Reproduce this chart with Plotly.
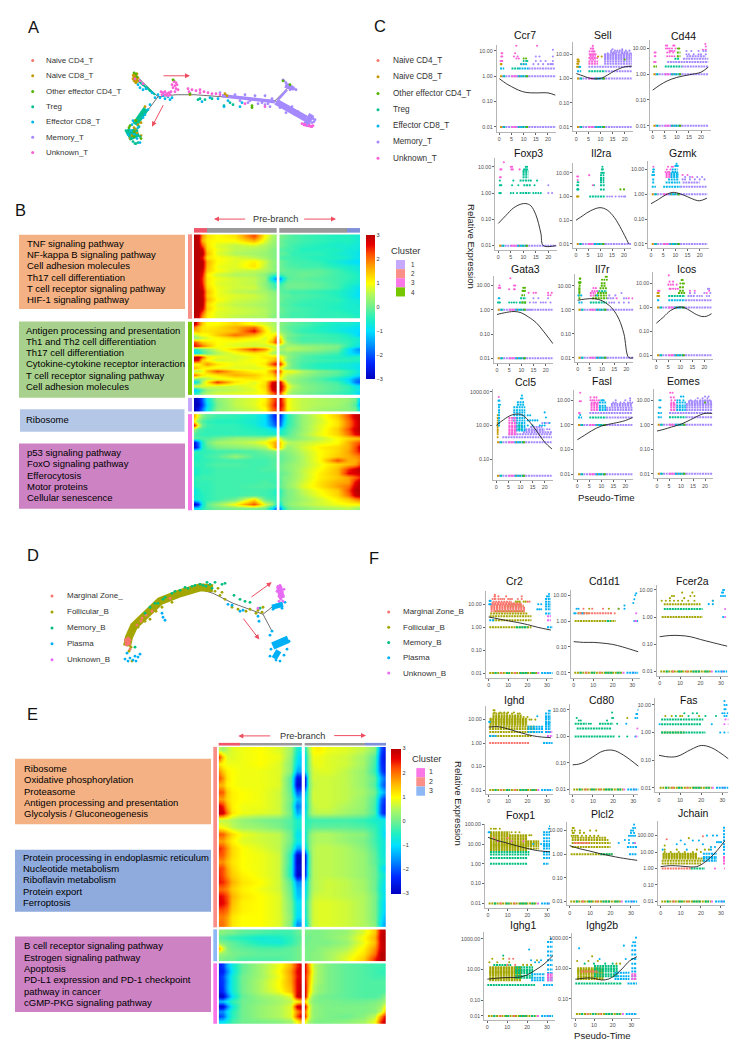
import math
import plotly.graph_objects as go

W, H = 736, 1048
COL = dict(R="#F8766D", B="#C49A00", G="#53B400", T="#00C094", C="#00B6EB", M="#A58AFF", U="#FB61D7",
           O="#A3A500", E="#00BF7D", P="#00B0F6", V="#E76BF3")
JET = [[0, "#0000C0"], [.117, "#0028FF"], [.233, "#0090FF"], [.333, "#00E0FF"], [.417, "#20F0C0"], [.5, "#70F090"],
       [.583, "#B0F860"], [.667, "#FFFF00"], [.767, "#FFB000"], [.867, "#FF5000"], [.933, "#E80000"], [1, "#B80000"]]

# ---------- legends / text ----------
T_CLUSTERS = ["Naive CD4_T", "Naive CD8_T", "Other effector CD4_T", "Treg", "Effector CD8_T", "Memory_T", "Unknown_T"]
T_KEYS = ["R", "B", "G", "T", "C", "M", "U"]
B_CLUSTERS_D = ["Marginal Zone_", "Follicular_B", "Memory_B", "Plasma", "Unknown_B"]
B_CLUSTERS_F = ["Marginal Zone_B", "Follicular_B", "Memory_B", "Plasma", "Unknown_B"]
B_KEYS = ["R", "O", "E", "P", "V"]
PATH_B1 = ["TNF signaling pathway", "NF-kappa B signaling pathway", "Cell adhesion molecules", "Th17 cell differentiation",
           "T cell receptor signaling pathway", "HIF-1 signaling pathway"]
PATH_B2 = ["Antigen processing and presentation", "Th1 and Th2 cell differentiation", "Th17 cell differentiation",
           "Cytokine-cytokine receptor interaction", "T cell receptor signaling pathway", "Cell adhesion molecules"]
PATH_B3 = ["Ribosome"]
PATH_B4 = ["p53 signaling pathway", "FoxO signaling pathway", "Efferocytosis", "Motor proteins", "Cellular senescence"]
PATH_E1 = ["Ribosome", "Oxidative phosphorylation", "Proteasome", "Antigen processing and presentation", "Glycolysis / Gluconeogenesis"]
PATH_E2 = ["Protein processing in endoplasmic reticulum", "Nucleotide metabolism", "Riboflavin metabolism", "Protein export", "Ferroptosis"]
PATH_E3 = ["B cell receptor signaling pathway", "Estrogen signaling pathway", "Apoptosis", "PD-L1 expression and PD-1 checkpoint",
           "pathway in cancer", "cGMP-PKG signaling pathway"]

# ---------- trajectory A (read in picture units) ----------
A_TREE = [[(135, 72), (158, 94)], [(158, 94), (137, 122)], [(158, 94), (176, 92), (195, 92), (240, 95), (275, 98)],
          [(275, 98), (289, 84)], [(275, 98), (305, 115)]]
A_BANDS = [("M", 3.5, [(222, 93), (240, 95), (260, 97), (275, 99)]), ("M", 6.5, [(276, 99), (290, 107), (300, 113), (306, 116)]),
           ("M", 13, [(306, 116), (311, 119)]), ("M", 2.5, [(278, 97), (287, 87)]), ("M", 4, [(285, 83), (294, 86)]),
           ("T", 11, [(131, 127), (135, 136)]), ("T", 6, [(135, 122), (146, 106)]), ("T", 2, [(138, 78), (155, 92)]),
           ("B", 5, [(134, 71), (137, 80)]), ("U", 3, [(303, 122), (313, 124)])]
A_POINTS = {
 "M": [(310, 118), (308, 115), (313, 116), (312, 120), (306, 118), (309, 121), (314, 119), (304, 114), (298, 109), (295, 112),
       (284, 78), (286, 80), (288, 82), (283, 77), (290, 85), (292, 84), (294, 86), (296, 87), (290, 87), (287, 84), (255, 93),
       (250, 98), (262, 100), (268, 101), (265, 93), (245, 92), (235, 92), (228, 94), (220, 90), (270, 104), (258, 101),
       (248, 100), (272, 96), (311, 114), (315, 117), (307, 122), (280, 105), (286, 110), (292, 104), (265, 102), (240, 98)],
 "B": [(134, 72), (135, 75), (136, 77), (137, 71), (133, 76), (136, 80), (138, 75), (134, 78), (136, 127), (138, 122), (134, 125),
       (141, 133), (132, 133), (145, 104), (190, 92), (225, 91), (227, 93), (141, 120), (135, 118), (130, 136), (137, 130)],
 "T": [(128, 128), (127, 130), (129, 133), (131, 136), (133, 139), (135, 141), (138, 140), (129, 127), (137, 128), (140, 134),
       (126, 128), (136, 141), (139, 124), (142, 110), (198, 97), (205, 97), (212, 96), (233, 102), (224, 103), (230, 100),
       (140, 78), (143, 82), (147, 85), (150, 88), (200, 96)],
 "C": [(155, 95), (160, 95), (165, 96), (168, 94), (172, 95), (163, 93), (158, 92), (170, 97), (143, 115), (138, 125), (134, 132),
       (131, 128), (137, 136), (140, 140), (132, 122), (148, 107), (145, 112), (150, 102), (202, 99), (210, 95), (218, 96),
       (224, 104), (228, 98), (240, 104), (242, 100), (140, 85), (146, 86), (143, 87), (138, 82), (152, 90), (133, 118), (128, 132)],
 "G": [(173, 77), (174, 78), (283, 78), (290, 82), (252, 105), (252, 103), (134, 70), (136, 71), (137, 74), (190, 91), (136, 118),
       (130, 123), (141, 136), (134, 129), (134, 134), (129, 125)],
 "U": [(174, 79), (175, 83), (176, 86), (177, 82), (173, 85), (178, 87), (175, 89), (172, 82), (176, 80), (161, 89), (163, 90),
       (165, 89), (167, 91), (169, 90), (171, 89), (162, 92), (165, 92), (168, 93), (170, 92), (188, 86), (192, 87), (196, 88),
       (200, 87), (204, 89), (208, 90), (212, 91), (216, 91), (220, 92), (189, 89), (200, 90), (305, 122), (309, 123), (313, 123),
       (311, 124), (302, 121), (265, 104), (245, 101), (140, 78), (143, 81), (135, 76)],
}
# ---------- trajectory D ----------
D_TREE = [[(130, 642), (133, 628), (147, 613), (160, 600), (180, 592), (200, 588), (213, 592), (233, 602), (263, 613)],
          [(263, 613), (272, 630)], [(263, 613), (273, 605)]]
D_BANDS = [("O", 8, [(127, 645), (129, 636), (134, 625), (147, 612), (160, 600), (180, 592), (200, 586), (213, 587)]),
           ("R", 6, [(127, 637), (128, 644)]), ("P", 17, [(279, 638), (282, 645)]), ("P", 9, [(274, 652), (279, 655)]), ("V", 6, [(279, 585), (282, 597)]),
           ("P", 5, [(272, 606), (283, 603)])]
D_POINTS = {
 "R": [(127, 640), (128, 637), (129, 643), (127, 644), (130, 639), (141, 620), (146, 614), (152, 610), (170, 597), (130, 648), (142, 617), (137, 624)],
 "O": [(129, 650), (131, 646), (131, 630), (138, 626), (145, 620), (150, 618), (156, 610), (162, 606), (172, 601), (215, 590),
       (220, 594), (225, 598), (232, 606), (238, 608), (246, 610), (250, 608), (256, 612), (258, 609), (262, 611), (132, 660), (263, 606), (218, 587), (222, 591)],
 "E": [(155, 602), (165, 596), (172, 592), (180, 589), (188, 587), (195, 584), (203, 584), (210, 583), (215, 581), (222, 583),
       (225, 582), (234, 594), (240, 598), (245, 600), (250, 601), (135, 646), (150, 606), (163, 598), (260, 607), (212, 587),
       (175, 590), (185, 586), (200, 583), (207, 581), (206, 585), (192, 585), (158, 602), (145, 612)],
 "P": [(125, 658), (127, 652), (130, 657), (133, 659), (135, 655), (138, 656), (140, 653), (128, 660), (136, 660), (162, 612), (163, 616),
       (165, 619), (228, 603), (232, 604), (240, 610), (243, 609), (258, 615), (259, 620), (270, 634), (272, 630), (289, 640), (287, 648),
       (271, 648), (270, 655), (276, 659), (280, 660), (284, 654), (273, 608), (276, 604), (280, 602), (282, 607), (285, 601)],
 "V": [(278, 585), (280, 584), (282, 590), (284, 588), (279, 595), (283, 594), (281, 598), (279, 600), (258, 607), (283, 600), (277, 590)],
}

# ---------- heat maps: ten columns per side ----------
HEAT_COLS = [0, 5, 10, 16, 28, 50, 72, 86, 94, 100]
B_H1 = [
 [3,3,1.8,1.2,1,1.2,2.2,1,.5,.3, .1,0,-.1,-.2,-.3,-.4,-.5,-.5,-.6,-.7],
 [3,3,1.6,1.1,1,1,1.6,.8,.4,.3, 0,-.1,-.2,-.2,-.3,-.4,-.5,-.5,-.6,-.7],
 [3,3,2.2,1.2,.8,.6,.7,.5,.3,.2, 0,-.1,-.2,-.3,-.4,-.5,-.6,-.6,-.7,-.7],
 [3,3,2.8,1.3,.9,.6,.5,.4,.2,.1, -.2,-.2,-.3,-.3,-.5,-.5,-.5,-.7,-.7,-.8],
 [3,3,3,1.5,.8,.5,.4,.3,.2,.1, -.1,-.1,-.2,-.4,-.4,-.4,-.6,-.7,-.8,-.9],
 [3,3,2.6,1.2,1,.8,.6,.4,.2,.1, -.2,-.3,-.3,-.3,-.4,-.5,-.5,-.6,-.8,-.8],
 [3,3,3,1.6,1,.8,1.1,.7,.3,.2, 0,-.1,-.2,-.3,-.3,-.4,-.7,-.9,-1,-1],
 [3,3,3,1.5,.9,.8,1.2,.6,.3,.1, 0,-.1,-.2,-.2,-.3,-.3,-.5,-.6,-.7,-.8],
 [3,3,2.8,1.4,1,.7,.6,.5,.3,.2, 0,0,-.1,-.1,-.1,-.1,-.3,-.5,-.6,-.7],
 [3,3,2.6,1.1,.7,.5,.5,.2,-.2,-.4, -.3,-.2,-.1,-.1,0,-.1,-.3,-.4,-.5,-.6],
 [3,3,2.4,1.2,.9,.7,.6,.3,-1,-1.9, -1.7,-.8,-.2,-.1,-.1,-.2,-.3,-.4,-.5,-.6],
 [3,3,2.5,1.2,.8,.7,.6,.2,-.2,-.5, -.4,-.2,0,0,0,-.1,-.3,-.5,-.6,-.7],
 [3,3,2.7,1.3,.9,.7,.7,.3,-.1,-.4, -.2,-.1,0,0,0,-.1,-.3,-.6,-.8,-.9],
 [3,3,3,1.5,.9,.6,.5,.4,.2,.1, -.1,-.2,-.2,-.3,-.3,-.4,-.5,-.7,-.8,-1],
 [3,3,2.9,1.4,.9,.8,.7,.5,.3,.2, 0,-.1,-.1,-.2,-.2,-.3,-.5,-.7,-.9,-1],
 [3,3,3,1.6,1,.7,.6,.5,.3,.2, 0,-.1,-.2,-.2,-.3,-.4,-.4,-.6,-.7,-.7],
 [3,3,3,1.3,.8,.6,.5,.4,.3,.2, -.1,-.2,-.2,-.3,-.4,-.4,-.5,-.6,-.6,-.7],
 [3,3,2.8,1.4,.9,.7,.6,.5,.3,.2, 0,-.1,-.2,-.2,-.3,-.4,-.5,-.6,-.6,-.6],
 [3,3,2.2,1.2,.8,.7,.6,.5,.3,.2, -.1,-.1,-.2,-.3,-.3,-.4,-.4,-.5,-.6,-.6],
 [3,2.8,1.8,1.1,.8,.6,.5,.5,.2,.1, -.1,-.2,-.2,-.3,-.3,-.4,-.4,-.4,-.5,-.5],
]
B_H2 = [
 [3,2.2,1.4,1,1,1.3,.9,.7,.5,.4, .2,.1,0,-.1,-.2,-.4,-.6,-.6,-.7,-.8],
 [2,1.5,1.2,1.1,1.2,1.6,2,1,.6,.4, .2,0,-.1,-.2,-.3,-.5,-.7,-.8,-.9,-1],
 [1.5,1.5,1.2,1.2,1.3,1.5,2.6,1.2,.7,.5, .3,.1,0,-.2,-.4,-.5,-.7,-.9,-1,-1],
 [.6,.8,1,1,1.4,2,1.6,1,1,1.4, .8,.4,.1,0,-.2,-.3,-.4,-.6,-.9,-1.2],
 [.2,.4,.6,.8,1,1.3,1.1,.8,1.2,2.2, 1.4,.5,0,-.1,-.3,-.3,-.4,-.5,-.6,-.7],
 [2.2,1.8,1.4,1.2,1,.9,.8,.9,1.6,2.6, 1.8,.8,.2,0,-.2,-.2,-.3,-.4,-.6,-.7],
 [2.6,2.4,2,1.6,1,.8,.7,.7,.6,.7, .4,.3,.4,.4,.3,.2,.1,-.4,-.7,-.9],
 [-.5,-.3,0,.3,.8,1.4,2.4,1.8,.9,.6, .5,.4,.6,.5,.4,.2,0,-.9,-1.4,-1.6],
 [-1,-.8,-.3,0,.5,.9,1.2,1,.5,.3, .2,.2,.2,.1,0,-.1,-.3,-.9,-1.2,-1.3],
 [3,3,2.2,1.2,.9,.7,.9,1.2,1.2,1.4, 1.2,.8,.3,.1,-.2,-.4,-.5,-.6,-.5,-.5],
 [2.8,2.6,1.4,1,.7,.8,1,1,1.4,1.8, 1.4,.7,.2,0,-.2,-.3,-.4,-.4,-.5,-.5],
 [1,1,1.3,1.8,1.2,.9,.9,1.2,2.2,2.8, 2.6,1.4,.4,0,-.3,-.5,-.6,-.7,-.8,-.8],
 [1.6,1.3,1.1,1,.9,.8,.8,.9,1.1,1.4, 1,.5,.2,0,-.3,-.5,-.6,-.7,-.8,-1],
 [.5,.6,.8,1.5,2.2,1.4,1,1,1.8,2.6, 2.2,1,.9,.9,.5,.1,-.1,-.4,-.6,-.8],
 [2,1.6,1.2,1,1.2,1.6,1.4,1.1,1.3,2, 1.5,.8,.6,.5,.3,0,-.2,-.5,-.8,-1],
 [.2,.1,.3,.6,.8,1,1.2,1,1,1.3, 1,.6,.4,.3,.1,-.2,-.6,-1,-1.6,-1.8],
 [-1,-.5,.5,1.2,2.4,1.2,.8,1.2,2.6,3, 3,1.6,.6,.3,.1,-.1,-.3,-.9,-1.8,-2],
 [.8,.8,.8,.8,.7,.7,.9,1.3,2.8,3, 3,2.2,1,.6,.2,0,-.2,-.4,-.8,-1],
 [-1.2,-.8,-.2,.3,.5,.6,.8,1.2,2.6,3, 3,2,.8,.4,.2,0,-.2,-.4,-.7,-.8],
 [-.6,-.4,.2,.5,.7,.8,.9,1.1,2,2.6, 2.4,1.2,.6,.3,.1,-.1,-.3,-.5,-.8,-1.2],
]
B_H3 = [
 [-3,-2.8,-2,-.8,.2,.6,.8,1.1,2,2.6, 2.8,2,1,.8,.6,.5,.4,.3,0,-1.2],
 [-3,-3,-2.2,-1,.1,.6,.8,1.2,2.2,2.8, 2.8,2.2,1,.8,.6,.5,.4,.2,-.2,-1.6],
 [-3,-2.6,-1.8,-.8,.2,.5,.7,1,2,2.4, 2.6,2,1,.8,.6,.4,.3,.2,0,-1],
]
B_H4 = [
 [1.6,.8,.2,-.1,-.3,-.4,-.6,-1,-2,-2.6, -2.4,-1.4,-.5,-.2,.3,.8,1.4,2.2,2.8,3],
 [1,.2,-.2,-.4,-.5,-.5,-.7,-1,-1.8,-2.4, -2.2,-1.2,-.5,-.2,.3,.7,1.2,2,2.6,3],
 [2.6,1,0,-.3,-.4,-.4,-.6,-1,-1.6,-2.2, -2,-1,-.4,-.2,.3,.8,1.2,2,2.6,3],
 [.3,-.2,-.3,-.4,-.4,-.4,-.5,-.6,-.8,-1, -.8,-.5,-.3,-.1,.3,.8,1.4,2.2,2.8,3],
 [-.2,-.3,-.4,-.4,-.4,-.4,-.4,-.5,-.5,-.6, -.5,-.4,-.2,0,.4,.9,1.3,2,2.6,2.8],
 [-.1,-.2,-.2,-.2,0,.3,.3,.4,.8,1.1, .8,.3,.1,.1,.3,.6,1,1.3,1.4,1.5],
 [-2.6,-1.8,-.6,0,.4,.5,.7,1,1.4,1.8, 1.4,.9,.6,.5,.6,.8,1,1.6,2,2.2],
 [-2.8,-2,-.6,-.2,.1,.2,.3,.5,1.2,2, 1.4,.7,.3,.4,.7,1.1,1.3,1.6,2.2,2.8],
 [-.4,-.4,-.4,-.4,-.3,-.3,-.2,0,.1,.1, .1,.1,.2,.3,.6,1,1.3,1.7,2.2,2.6],
 [-.5,-.5,-.4,-.3,-.2,.3,-.2,-.2,-.1,-.1, -.1,0,.1,.2,.5,1,1.4,1.6,1.8,2],
 [-.5,-.5,-.4,-.4,-.3,-.3,-.3,-.3,-.2,-.2, -.1,0,.1,.2,.5,1,2.2,1.6,1.6,1.9],
 [-.4,-.4,-.4,-.3,-.2,-.2,-.3,-.3,-.2,-.1, 0,.1,.2,.3,.5,.9,1.3,1.5,1.7,2.2],
 [-.6,-.5,-.4,-.4,-.3,-.3,-.3,-.2,-.2,-.2, 0,.1,.2,.3,.6,1,1.5,2.4,2.8,3],
 [-.6,-.5,-.4,-.4,-.3,-.3,-.3,-.3,-.3,-.3, -.1,0,.1,.3,.6,1.1,1.5,2.6,2.7,2.8],
 [-.4,-.4,-.3,-.3,-.3,-.3,-.3,-.3,-.3,-.3, -.1,.1,.2,.3,.6,1.1,1.4,1.7,2.1,2.4],
 [-.5,-.4,-.4,-.4,-.3,-.3,-.3,-.2,-.3,-.4, -.2,.1,.2,.4,.7,1.2,1.6,1.7,2.6,3],
 [-.5,-.4,-.4,-.4,-.3,-.3,-.2,-.2,-.2,-.3, -.1,.1,.3,.4,.8,1.2,1.7,2,2.8,3],
 [-.8,-.6,-.4,-.4,-.3,-.3,-.3,-.3,-.4,-.6, -.5,-.1,.1,.2,.6,1,1.4,2.2,3,3],
 [-.7,-.6,-.5,-.4,-.3,-.3,-.2,-.3,-.4,-.5, -.4,-.1,.1,.2,.5,.9,1.3,2,2.8,3],
 [-.7,-.6,-.5,-.4,-.3,0,1.2,-.1,-.3,-.4, -.3,0,.1,.2,.4,.7,1.1,1.4,1.8,2],
 [-3,-2.4,-.8,-.1,.3,1,2.2,.8,.3,-.6, -.8,0,.2,.3,.5,.7,.9,1,1,1.1],
 [-1,-1,-.5,-.2,0,.1,.1,0,-1,-2, -1.8,-.6,-.1,.1,.2,.4,.5,.6,.4,.3],
]
E_H1 = [
 [.6,.4,.6,.8,.9,1,.8,.4,-.6,-.9, -.6,.5,1,1.1,.9,.8,.6,.2,-2,-2.6],
 [2.4,1.4,.8,.8,.9,1,.9,.3,-.8,-1.3, -.9,.3,.9,.9,.8,.7,.4,-.2,-2.2,-2.8],
 [1.2,1,.9,.9,.9,1,.8,.2,-1,-1.2, -.9,.3,.8,.9,.8,.7,.4,-.3,-2.2,-2.6],
 [1.8,1.4,1.1,1,.9,.9,.8,.2,-1.4,-1.4, -1,.2,.7,.8,.8,.6,.3,-.4,-2,-2.6],
 [2.2,1.8,1.2,1,.9,.9,.8,-.2,-2.6,-2.6, -2.6,.1,.7,.7,.7,.6,.3,-.1,-1.4,-2],
 [1.6,1.5,1.1,1,.9,.9,.8,-.2,-2.8,-2.8, -2.6,.1,.6,.7,.7,.6,.3,-.2,-1.6,-2.2],
 [2.2,2.1,1.4,1.1,1,.9,.7,-.1,-2,-1.8, -1.4,.1,.7,.7,.7,.6,.4,0,-1,-1.6],
 [1.7,1.7,1.3,1.1,1,.9,.7,0,-1.2,-1.3, -1,.1,.7,.7,.7,.6,.3,-.2,-1.8,-2.4],
 [2.7,2.4,1.6,1.1,.9,.9,.7,-.1,-1.8,-1.5, -1.2,.1,.6,.7,.7,.5,.3,-.3,-2,-2.6],
 [2.9,2.8,2,1.2,.9,.8,.7,0,-1.4,-1.2, -.9,.1,.5,.6,.6,.4,.2,-.3,-2,-2.6],
 [.6,.6,.6,.5,.3,.1,0,-.2,-.6,-.6, -.6,-.4,-.3,-.3,-.3,-.3,-.4,-.6,-.7,-.8],
 [1,.9,.8,.6,.4,.3,.1,-.2,-.6,-.6, -.5,-.3,-.1,-.1,-.1,-.1,-.2,-.4,-.7,-.9],
 [2.2,2.1,1.7,1.3,.9,.7,.6,0,-.9,-.9, -.7,.1,.4,.5,.5,.3,.2,-.3,-.7,-1.2],
 [1.7,1.7,1.4,1.1,.8,.7,.6,0,-.8,-.8, -.6,.1,.4,.5,.5,.3,.1,-.3,-.6,-.8],
 [2.4,2.2,1.8,1.3,1,.8,.6,-.2,-1.4,-1.4, -1,.1,.5,.6,.6,.5,.2,-.2,-.6,-.8],
 [2.2,2.1,1.7,1.3,1,.9,.7,-.5,-2.8,-2.8, -2.6,-.2,.5,.6,.6,.5,.3,-.1,-.6,-.8],
 [1.8,1.8,1.5,1.2,1,.9,.7,-.5,-2.9,-2.9, -2.6,-.2,.5,.6,.6,.5,.3,-.1,-.5,-.7],
 [2.3,2.2,1.7,1.3,1,.9,.7,-.6,-2.8,-2.8, -2.4,-.2,.5,.6,.6,.5,.3,0,-.7,-1.2],
 [2.4,2.2,1.8,1.4,1.1,.9,.7,-.6,-2.9,-2.9, -2.4,-.2,.5,.6,.6,.5,.3,0,-.5,-.8],
 [2.5,2.4,2.1,1.6,1.2,1,.7,-.2,-1.6,-1.6, -1.2,0,.5,.6,.7,.6,.4,0,-.6,-1],
 [2,2,1.8,1.4,1.1,.9,.7,-.1,-1.3,-1.3, -1,0,.5,.6,.7,.6,.4,0,-.7,-1],
 [2.6,2.5,2.2,1.6,1.2,1,.8,0,-1.2,-1.2, -.9,.1,.6,.7,.7,.6,.5,.1,-.6,-1],
 [2.7,2.6,2.3,1.5,1.1,1,.8,.1,-.9,-.9, -.6,.2,.7,.8,.8,.7,.5,.1,-.7,-1.2],
 [2.2,2.2,2,1.4,1.1,1,.8,.1,-.9,-1, -.7,.2,.7,.8,.8,.7,.5,.1,-.7,-1.2],
 [1.9,1.9,1.7,1.2,1,1,.8,.2,-1,-1, -.7,.2,.7,.8,.8,.7,.5,.1,-.8,-1.4],
 [2,2,1.7,1.2,1,1,.8,.1,-1.6,-1.5, -1,.1,.7,.8,.8,.7,.5,.2,-1,-1.6],
]
E_H2 = [
 [.2,.2,.1,.1,-.1,-.2,-.3,-.3,-.1,0, .1,.1,.1,.1,.2,.3,.8,1.4,2.8,3],
 [-.1,-.2,-.3,-.4,-.5,-.7,-.6,-.4,-.2,-.1, 0,0,.1,.1,.2,.4,1,1.6,2.9,3],
 [.2,.1,0,-.1,-.3,-.6,-.7,-.4,-.2,0, 0,.1,.1,.1,.1,.3,.9,1.5,2.8,3],
 [1.6,.8,.2,0,-.1,-.2,-.2,-.1,0,.1, .1,.1,.1,.2,.3,.5,1.1,1.8,2.8,3],
 [.4,.3,.2,.1,0,-.1,-.1,-.1,0,.1, .1,.1,.2,.2,.4,.7,1.2,2,3,3],
 [.1,.1,0,0,-.2,-.2,-.2,-.1,0,.1, .1,.1,.2,.2,.4,.8,1.4,2.4,3,3],
]
E_H3 = [
 [-2.4,-2.2,-1.4,-.8,-.1,.4,.9,1.6,2.4,2.8, 2.6,1.6,.7,.4,.1,-.1,-.2,-.3,-.3,-.4],
 [-2.5,-2.4,-1.7,-.9,-.1,.4,1,1.8,2.6,2.8, 2.6,1.8,.8,.4,.1,-.1,-.2,-.3,-.4,-.4],
 [-2.3,-2.1,-1.4,-.7,0,.4,.9,1.7,2.5,2.7, 2.5,1.6,.7,.4,.1,-.1,-.2,-.3,-.3,-.3],
 [-2.3,-2.2,-1.5,-.7,0,.5,1,1.7,2.6,2.8, 2.6,1.5,.7,.4,.1,-.1,-.2,-.2,-.2,-.2],
 [-2.4,-2.2,-1.4,-.7,0,.5,1,1.6,2.6,3, 2.7,1.4,.6,.3,.1,-.1,-.2,-.2,-.2,-.2],
 [-2.5,-2.3,-1.5,-.7,0,.5,.9,1.5,2.6,3, 2.7,1.3,.6,.3,.1,-.1,-.2,-.2,-.2,-.2],
 [-2.9,-2.9,-2,-1,-.1,.3,.5,.8,2.8,3, 2.8,.9,.3,.1,0,-.1,-.2,-.2,-.1,.2],
 [-1.2,-1.2,-.8,-.4,0,.2,.4,.6,1,1.4, 1.2,.5,.2,.1,.1,0,0,.1,.2,.4],
 [-2.9,-2.8,-1.8,-.8,0,.3,.5,.8,2.8,3, 2.8,.9,.3,.2,.1,.1,.1,.2,.4,1],
 [-1.6,-1.6,-1,-.5,0,.3,.5,.8,1.8,2.4, 2,.8,.3,.2,.1,.1,.1,.2,.6,1.6],
 [-2.2,-2,-1.2,-.5,0,.3,.5,.8,2.2,2.9, 2.4,.8,.3,.2,.1,0,.2,.6,1.8,2.8],
 [-1,-1,-.7,-.3,0,.1,.2,.4,1,1.6, 1,.4,.2,.1,.1,.2,.4,.9,2.4,3],
]

# ---------- relative expression panels: (cluster, level(s), from, to) runs and (cluster, level, [x]) dots ----------
T_MIX = [("M", 2.5, 12), ("B", .3, 1.3), ("R", 1, 1.4), ("C", 1.3, 2.2), ("T", 1.8, 2.4), ("U", 5, 7.5), ("C", 7.5, 9.5), ("B", 8, 8.6),
         ("T", 9.5, 11.5), ("G", 11, 11.8), ("M", 12, 23.2)]
B_MIX = [("O", .3, 25), ("E", 3, 4.5), ("R", 6, 7), ("E", 9, 11), ("R", 13, 14), ("E", 16, 20), ("E", 22, 24), ("V", 25, 26), ("P", 27, 33), ("V", 30, 31)]

CCR7_RUNS = [("C", 2, .3, 2), ("T", 2, 5, 8), ("C", 2, 8, 12), ("M", 2, 12, 23)]
CCR7_DOTS = [("U", 4, [.5, 1, 1.2]), ("U", 6, [.8, 1.2, 6, 7.5]), ("U", 8, [.9, 1.2, 6.5]), ("U", 16, [7, 15.5]), ("G", 5, [10, 11]), ("T", 4, [10, 11, 11.5]),
             ("B", 3, [.6, .9, 9, 10]), ("M", 3, [14, 16, 18, 20, 21, 21.5, 22]), ("M", 4, [15, 17, 19, 22]), ("M", 6, [15, 16.5, 22]), ("M", 11, [22]), ("U", 5, [7, 8]), ("C", 3, [9, 10, 11])]
CCR7_X, CCR7_Y = [0, 3, 5, 8, 11, 15, 20, 23], [.8, .5, .39, .28, .23, .22, .22, .18]

SELL_RUNS = [("C", 2, .3, 2), ("T", 2, 5, 12), ("M", 2, 12, 23), ("M", 3, 5, 23), ("M", [4, 5, 6, 7, 8, 9, 10], 11.5, 23), ("M", 12, 14, 22), ("U", [4, 5, 7], 5, 9), ("U", [6, 8, 9], 5.5, 8)]
SELL_DOTS = [("U", 10, [5.5, 6, 6.5, 7, 7.5, 8]), ("U", 13, [5.5, 6.5, 7, 7.5]), ("U", 17, [6, 6.7, 7]), ("U", 22, [6.8]), ("B", 3, [.3, .8, 1]), ("B", 4, [.4, .8]), ("B", 5, [.5, .8, 1.1]), ("B", 6, [.5, .9]),
             ("M", 14, [14.5, 16, 17, 18, 19, 20.5, 22]), ("M", 11, [13, 15, 16, 19, 20, 21, 22.5]), ("M", 16, [15, 19]), ("G", 6, [20]), ("B", 8, [9, 10.5]), ("C", 3, [1.3, 1.6])]
SELL_X, SELL_Y = [0, 3, 6, 10, 13, 16, 20, 23], [1.6, 1.25, 1, 1, 1.4, 2.1, 3, 3.2]

CD44_RUNS = [("G", 2, .3, 1.8), ("T", 2, 5, 12), ("M", 2, 12, 23), ("M", 3, 6, 23), ("M", 4, 12.5, 23), ("M", 5, 14, 22), ("T", 4, 9, 11), ("G", 5, 10, 11.5), ("G", 7, 10, 11.5)]
CD44_DOTS = [("U", 3, [.6, 1, 1.2]), ("U", 5, [.9, 1.1, 6, 7, 8, 9]), ("U", 7, [.8, 1.2, 6, 7, 8.5]), ("U", 10, [5.5, 6.3, 7, 8, 9.5]), ("U", 13, [5.5, 6, 8.5, 9]), ("G", 10, [10.5, 11]), ("U", 8, [7, 7.5, 8, 9]),
             ("M", 6, [14, 15, 17, 19, 20, 22]), ("M", 8, [14, 16, 19, 21, 22]), ("U", 15, [21.8]), ("U", 12, [22]), ("U", 9, [20.8, 22])]
CD44_X, CD44_Y = [0, 3, 6, 10, 15, 20, 23], [.24, .38, .55, .75, .95, 1.2, 1.9]

FOXP3_RUNS = [("T", 1, 8.5, 13), ("T", 2, 10, 13), ("T", 3, 8.5, 12.5), ("T", [4, 5, 6, 7], 9.7, 12)]
FOXP3_DOTS = [("T", 1, [.4, .7, 1, 5, 6, 7.5, 14, 15, 16, 17]), ("M", 1, [20, 21.5]), ("T", 2, [.6, .9, 1.2, 5.5, 8, 14.5]), ("M", 2, [20]), ("T", 3, [.6, 6, 13, 15.5]), ("U", 4, [.6, 1]),
              ("U", 8, [.8, 1.2, 5.2, 5.8, 8.5]), ("U", 10, [5, 5.5]), ("U", 15, [2.2]), ("T", 8, [10.3, 11, 11.5]), ("T", 10, [11, 11.5])]
FOXP3_X, FOXP3_Y = [0, 3, 6, 9, 11, 13, 15, 17, 18, 23], [.07, .14, .27, .38, .4, .33, .15, .03, .01, .01]

IL2RA_RUNS = [("T", 1, 5.5, 12), ("T", 2, 10, 12), ("T", 3, 10, 12), ("T", [4, 5, 6, 8], 10, 11.8)]
IL2RA_DOTS = [("B", 1, [.4, .7, 1]), ("T", 2, [.5, .8, 1]), ("T", 3, [.5, .9, 7.5]), ("U", 3, [7]), ("U", 5, [.7]), ("U", 7, [.5, .9]), ("U", 8, [5.5]), ("T", 14, [10.8, 11.2]), ("T", 18, [11]), ("T", 10, [10.5, 11, 11.6]),
              ("M", 1, [13, 14, 15, 16.5, 18, 19, 20, 20.5]), ("G", 2, [18.5, 20]), ("T", 4, [1, .7])]
IL2RA_X, IL2RA_Y = [0, 3, 6, 10, 13, 16, 19, 22], [.1, .16, .25, .34, .27, .13, .04, .01]

GZMK_RUNS = [("C", 2, .3, 2), ("C", 2, 5, 12), ("M", 2, 12, 23), ("C", [3, 4], .5, 1.5), ("C", 3, 6, 12), ("M", 3, 13, 20), ("C", 4, 7, 11.5), ("U", [5, 6, 7], 6, 8), ("C", [5, 6, 7], 8, 11.5), ("C", [8, 10], 8.5, 11)]
GZMK_DOTS = [("C", 6, [.5, 1, 1.3]), ("C", 8, [.8, 1.1]), ("C", 10, [.9, 1.2]), ("U", 13, [1, 7, 8.5, 9]), ("C", 14, [10, 10.5, 11]), ("U", 8, [6, 7, 7.5]), ("U", 10, [6.5, 8]), ("M", 4, [13, 14, 16, 18, 20, 22]),
             ("M", 5, [14, 16, 19, 21]), ("U", 6, [15, 13]), ("U", 5, [17]), ("C", 17, [10.5])]
GZMK_X, GZMK_Y = [0, 3, 6, 9, 12, 15, 18, 20, 23], [.42, .62, .95, 1.2, 1.05, .8, .6, .55, .7]

GATA3_RUNS = [("T", 2, 9, 12), ("G", 2, 10, 12), ("T", 3, 9.5, 12), ("G", 4, 10, 11.5)]
GATA3_DOTS = [("T", 2, [.4, .8, 1.2, 5, 6, 7, 8]), ("C", 3, [.7, 1]), ("U", 8, [1, 1.3, .7]), ("U", 10, [1]), ("U", 7, [5, 7, 7.3]), ("U", 10, [7, 7.5]), ("U", 20, [5.5]), ("G", 6, [10.5, 11, 11.5]), ("G", 8, [10.8, 11.5]),
              ("M", 2, [13.5, 15, 16, 18, 19, 20, 22]), ("M", 3, [15, 17, 21]), ("U", 5, [13, 15, 16]), ("U", 4, [22, 21]), ("U", 5, [21, 22.5]), ("M", 1, [13, 14])]
GATA3_X, GATA3_Y = [0, 3, 7, 10, 13, 16, 20, 23], [.64, .75, .85, .75, .5, .3, .1, .04]

IL7R_RUNS = [("C", 2, .3, 2), ("T", 2, 5, 12), ("G", [3, 4, 5, 6, 7, 8], .3, 1.4), ("G", [10, 13], .4, 1.2), ("G", 3, 6, 12), ("G", 4, 7, 12), ("G", 5, 8, 12), ("T", 6, 8.5, 12), ("G", 8, 9, 12), ("G", [10, 13], 9.5, 11.5), ("U", [4, 5], 5, 7.5), ("M", 3, 12, 15)]
IL7R_DOTS = [("G", 14, [.5, 1, 1.2]), ("G", 20, [.9, 1.1]), ("G", 18, [10, 11, 12]), ("G", 24, [11.5, 12]), ("U", 6, [6, 7, 8]), ("U", 8, [6.5, 7.5]), ("M", 2, [13, 14, 15, 17, 19, 21]), ("M", 4, [13, 15.5]), ("M", 5, [18]), ("U", 3, [16, 21, 22.5]), ("M", 3, [19, 20]), ("C", 4, [.3, 1.5, 8])]
IL7R_X, IL7R_Y = [0, 3, 7, 10, 13, 15, 17, 19, 21, 23], [2.5, 2.8, 2.9, 2.4, 1.5, .9, .4, .1, .01, .01]

ICOS_RUNS = [("C", 2, .3, 1.5), ("C", 2, 5, 12), ("M", 2, 12, 23), ("T", 3, 5, 12), ("M", 3, 13, 16), ("G", 4, 9, 12), ("G", [5, 7], 9.5, 11.5)]
ICOS_DOTS = [("B", 3, [.4, .8, 1.2]), ("B", 4, [.5, 1]), ("U", 5, [.7, 1, 1.3]), ("U", 6, [5.5, 6, 7, 8, 9]), ("U", 9, [5, 6, 7, 8.5]), ("U", 12, [5.5, 7]), ("U", 22, [5.2]), ("G", 10, [10, 11, 11.5]), ("G", 14, [10.5, 11]),
             ("M", 3, [17, 18, 19, 21, 22]), ("M", 4, [14, 16, 20, 22.5]), ("U", 5, [14, 16, 22]), ("M", 6, [21.5, 22]), ("U", 4, [14, 21])]
ICOS_X, ICOS_Y = [0, 3, 6, 10, 13, 16, 19, 21, 23], [.22, .4, .75, 1.05, .85, .55, .42, .43, .55]

CCL5_RUNS = [("M", 2, 2.5, 23), ("M", 3, 5, 23), ("M", 4, 11, 23), ("M", [5, 6], 12, 20), ("M", 8, 14, 19), ("B", [2, 3, 4, 5, 6, 8, 10, 14, 20, 28, 40], .2, .9), ("C", [10, 14, 20, 28, 40, 60, 80, 120], .7, 1.8),
             ("U", [3, 4, 5, 6, 8, 10, 14, 20, 28], 5, 8.5), ("C", [5, 6, 8, 10, 14], 8, 12), ("C", [20, 28, 40, 60, 80, 120], 7, 12), ("C", [170, 240], 8.5, 11.5), ("T", [6, 10], 9, 10.5)]
CCL5_DOTS = [("C", 170, [1, 1.5]), ("C", 300, [.9, 1.3]), ("U", 500, [1]), ("C", 400, [10.2, 10.8]), ("C", 600, [10.6]), ("C", 20, [13, 14, 15, 16, 17]), ("C", 40, [13, 14]), ("C", 10, [13, 15, 18, 19, 20]),
             ("C", 30, [20.5]), ("C", 60, [20]), ("M", 6, [21, 22]), ("M", 14, [19, 20.5, 21.5]), ("C", 14, [20, 22])]
CCL5_X, CCL5_Y = [0, 3, 6, 9, 11, 14, 17, 20, 23], [10, 22, 40, 48, 40, 15, 4, 1, .4]

FASL_RUNS = [("C", 2, .3, 2), ("T", 2, 5, 12), ("M", 2, 12, 23), ("M", 3, 5, 23), ("M", [4, 5], 12, 23), ("M", [6, 7], 14, 23), ("U", [4, 5, 6, 7], 5.5, 9), ("C", [4, 5, 6, 8], 9, 12)]
FASL_DOTS = [("U", 8, [6, 7, 7.5, 8.5]), ("U", 10, [5.5, 6.3, 7, 8, 9]), ("U", 13, [5.5, 7, 8]), ("U", 20, [1.2]), ("U", 9, [1, 1.5]), ("U", 3, [.7, 1]), ("M", 8, [15, 16, 18, 19.5, 21, 22, 23]), ("M", 10, [16, 20, 22]), ("M", 12, [22]), ("C", 10, [10, 10.5, 11]), ("C", 2.5, [1.2])]
FASL_X, FASL_Y = [0, 3, 6, 10, 15, 20, 23], [.25, .38, .58, .9, 1.15, 1.5, 2]

EOMES_RUNS = [("C", 2, .3, 2), ("C", 3, .3, 2), ("T", 2, 5, 12), ("M", 2, 12, 23), ("M", 3, 5, 23), ("M", [4, 5, 6, 7], 12, 23), ("M", [8, 9], 13, 23), ("U", [4, 5, 6, 7], 5.5, 8), ("C", [4, 5, 6, 8], 8, 12)]
EOMES_DOTS = [("U", 8, [6, 7]), ("U", 20, [5.5, 6.5]), ("C", 10, [1, 1.5, 8.5, 9.5, 11]), ("C", 5, [.9, 1.4]), ("U", 10, [6, 7.5]), ("U", 13, [5.8, 7]), ("M", 10, [14, 16, 18, 19, 20, 21, 22]), ("M", 12, [17, 19, 21]), ("M", 14, [20, 21.5]), ("G", 8, [20]), ("C", 14, [10, 11])]
EOMES_X, EOMES_Y = [0, 3, 6, 10, 14, 18, 20, 23], [.55, .65, .8, 1.05, 1.6, 2.5, 2.9, 2.9]

CR2_RUNS = [("O", 1, .3, 22), ("E", 1, 14, 20), ("P", 1, 30, 33), ("P", 2, .3, 3), ("O", 2, 2, 22), ("O", 3, .5, 22), ("O", 4, .8, 20), ("R", [5, 6, 7], 1, 19), ("O", 5, 3, 18), ("R", [8, 9], 1, 18), ("O", 8, 8, 18), ("R", [10, 11], 1.5, 17), ("O", 10, 10, 17), ("R", 13, 2, 12),
            ("P", [4, 6, 8, 10, 13, 17], 29, 32), ("V", [2, 3], 30, 32)]
CR2_DOTS = [("R", 17, [2, 3, 3.5, 5, 6, 7, 8, 10, 11, 12, 15, 17]), ("R", 22, [3, 3.2, 5, 9, 17]), ("R", 26, [3.2]), ("O", 13, [14, 15, 16, 18, 19]), ("P", 10, [.3, .6, 1, 25.5, 27]), ("P", 14, [.5, 1]), ("P", 6, [25, 26, 27]), ("P", 22, [30, 31]), ("P", 28, [31]), ("R", 13, [20, 21])]
CR2_X, CR2_Y = [0, 5, 10, 15, 20, 25, 32], [2.8, 2.3, 1.9, 1.6, 1.3, 1, .75]

CD1D1_RUNS = [("O", 1, .5, 21.5), ("E", 1, 17, 19), ("R", 2, 2, 20), ("O", 2, 2, 8)]
CD1D1_DOTS = [("P", 2, [.3, 1, 4.5]), ("P", 3, [1.5, 2.5, 23, 26]), ("R", 3, [5, 9.5, 15]), ("R", 2, [21]), ("O", 3, [8, 18, 23]), ("P", 4, [26]), ("P", 1, [31, 32.5]), ("V", 1, [31.5, 32]), ("V", 2, [32]), ("P", 5, [30.5]), ("P", 7, [31]), ("P", 10, [31.5]), ("P", 12, [32])]
CD1D1_X, CD1D1_Y = [0, 5, 10, 15, 20, 25, 33], [.16, .15, .15, .14, .125, .1, .065]

FCER2A_RUNS = [("O", 1, 1, 21), ("E", 2, 2, 21), ("O", 3, 2, 20)]
FCER2A_DOTS = [("O", 4, [1, 3, 5, 7, 9, 11, 14, 17, 26]), ("O", 5, [5, 12]), ("O", 6, [7, 15, 17, 6]), ("O", 8, [11, 16]), ("P", 3, [24, 26]), ("P", 4, [26]), ("P", 1, [31]), ("P", 6, [30, 31, 32]), ("P", 8, [30.5, 31]), ("P", 10, [31, 31.5]), ("V", 1, [32]), ("V", 2, [32])]
FCER2A_X, FCER2A_Y = [0, 5, 10, 15, 20, 25, 33], [.19, .21, .21, .19, .15, .12, .085]

IGHD_RUNS = [("R", 1, .3, 21), ("P", [1], 28, 33), ("P", 2, .2, 4), ("O", 2, .3, 22), ("O", [3, 4, 5], .3, 24), ("O", [6, 7, 8, 9, 10, 11], .5, 20), ("O", [13, 15], 2, 17), ("O", 18, 2, 10), ("P", [3, 4, 5, 6, 7, 8, 10, 12, 14, 18], 29, 32), ("P", [3, 4, 5], 20, 28), ("V", [2, 3], 30, 33)]
IGHD_DOTS = [("O", 25, [2.5, 3]), ("O", 20, [3, 6, 8, 10, 13]), ("O", 18, [12, 15, 16]), ("O", 13, [18, 20]), ("O", 10, [21, 22, 24]), ("P", 24, [31, 31.5]), ("P", 8, [.3, .6]), ("P", 14, [25])]
IGHD_X, IGHD_Y = [0, 5, 10, 15, 20, 25, 32], [4.8, 5, 4, 3, 2.3, 1.9, 1.7]

CD80_RUNS = [("E", 1, 1, 21), ("E", 2, 2, 19), ("E", 3, 1, 7), ("E", 3, 13, 20)]
CD80_DOTS = [("E", 5, [2, 19.5, 20]), ("E", 4, [3, 4, 17]), ("E", 8, [19.5]), ("E", 3, [8, 9, 22]), ("E", 1, [23, 27]), ("O", 5, [27]), ("P", 3, [26.5]), ("P", 1, [31, 33]), ("V", 1, [31.5]), ("V", 2, [32, 33]), ("P", 5, [31, 32]), ("P", 7, [31.5, 32]), ("P", 10, [32.5]), ("P", 12, [33])]
CD80_X, CD80_Y = [0, 3, 6, 10, 15, 20, 25, 33], [.085, .09, .11, .17, .28, .3, .2, .07]

FAS_RUNS = [("E", 1, 1, 22), ("O", 1, 1, 12), ("E", 2, 1, 20), ("E", 3, 1, 21)]
FAS_DOTS = [("O", 4, [3, 6, 10, 11, 19]), ("E", 5, [12, 16, 18]), ("E", 4, [8, 14, 22, 27]), ("P", 2, [.3, 25]), ("P", 1, [29, 31, 33]), ("V", 2, [31, 33]), ("V", 3, [31.5, 33]), ("P", 4, [31, 32]), ("P", 5, [30, 31, 32.5]), ("P", 7, [31, 31.5]), ("P", 10, [31, 32]), ("P", 14, [31])]
FAS_X, FAS_Y = [0, 5, 9, 15, 20, 25, 33], [.15, .13, .14, .24, .34, .28, .11]

FOXP1_RUNS = [("E", [1, 2], 1, 20), ("E", [3, 4], 1, 21), ("P", 1, 28, 31), ("O", [5, 6, 7, 8, 9, 10, 12, 14, 17, 20, 24, 28], 1, 20), ("O", [33, 40], 1, 11), ("P", [2, 3, 4, 6, 8, 10, 14, 20, 30, 40], 28, 32), ("O", [6, 8, 10, 12, 14], 20, 26)]
FOXP1_DOTS = [("O", 60, [1.5, 3, 4, 6]), ("O", 40, [12, 14, 16]), ("O", 28, [21, 22]), ("P", 60, [31, 32]), ("P", 80, [31.5]), ("P", 40, [.3, .8]), ("U", 14, [5, 12, 18]), ("R", 20, [3, 10]), ("P", 10, [23, 27])]
FOXP1_X, FOXP1_Y = [0, 5, 10, 15, 20, 25, 33], [22, 15, 11, 8, 6, 4.7, 4]

PLCL2_RUNS = [("O", 1, .5, 21), ("E", 1, 15, 21), ("O", 2, 1, 20), ("O", 3, 1, 20), ("O", 4, 1, 19), ("O", 5, 1, 18), ("R", 3, 2, 10), ("P", 2, 28, 33), ("P", 1, 29, 33)]
PLCL2_DOTS = [("O", 6, [1, 2, 3, 4, 6, 8, 10, 12, 14]), ("O", 8, [1.5, 2, 5, 7]), ("O", 10, [1.2, 2.5, 5, 10, 13]), ("O", 13, [1.5, 2]), ("P", 3, [24, 29, 31, 32]), ("P", 4, [27, 29]), ("P", 6, [29, 30, 31, 32]), ("P", 8, [30, 31.5]), ("P", 10, [30, 31]), ("P", 13, [31, 32]), ("P", 18, [31.5]), ("U", 3, [32])]
PLCL2_X, PLCL2_Y = [0, 5, 10, 15, 20, 25, 33], [2.3, 1.7, 1.35, 1.05, .85, .7, .55]

JCHAIN_RUNS = [("R", 1, .5, 15), ("E", 1, 15, 22), ("O", 2, .5, 20), ("O", 3, .5, 22), ("O", 4, 1, 22), ("O", [5, 6, 7, 8], 1, 18), ("P", [5, 8, 14, 20, 30, 50, 80, 120, 200, 300], 31, 33), ("U", [2, 3, 4, 5], 31, 33), ("P", [3, 4, 5, 8], 21, 28)]
JCHAIN_DOTS = [("O", 10, [2, 5, 9, 12, 16, 20]), ("O", 14, [2, 8, 18, 22, 24]), ("R", 60, [3]), ("O", 25, [2]), ("P", 50, [10, 16, 19]), ("P", 30, [8, 12, 21]), ("P", 100, [23, 26, 28]), ("R", 90, [21]), ("O", 70, [14]), ("P", 14, [1, 13, 25]), ("P", 20, [25, 27]), ("P", 40, [28, 29, 30]), ("U", 1, [27, 32])]
JCHAIN_X, JCHAIN_Y = [0, 5, 10, 15, 18, 21, 25, 28, 31, 33], [1.3, 1.5, 1.4, 1.25, 1.3, 2, 5, 12, 35, 70]

IGHG1_RUNS = [("E", 1, 0, 24), ("P", 1, 28, 33), ("O", [2, 2.5, 3, 4, 5, 6, 7, 8, 10, 12, 14], 1, 17), ("E", [3, 4, 6, 8, 10, 14], 14, 23), ("P", [2, 3, 6, 10, 20, 40, 80, 150, 300, 600], 30, 33), ("P", [2, 3, 5], 22, 29), ("E", 20, 3, 12), ("U", [2, 3, 4, 5], 30, 33)]
IGHG1_DOTS = [("O", 50, [2.5, 8]), ("R", 50, [11, 13]), ("O", 30, [1, 5, 11]), ("E", 80, [8]), ("P", 200, [21]), ("O", 40, [25]), ("O", 20, [18, 20, 22]), ("P", 40, [22, 27]), ("P", 30, [24, 26]), ("P", 1000, [32]), ("R", 20, [10, 14])]
IGHG1_X, IGHG1_Y = [0, 4, 8, 12, 16, 20, 24, 28, 33], [2.4, 2.7, 3, 3.1, 3.2, 4.5, 9, 20, 80]

IGHG2B_RUNS = [("E", 1, 0, 22), ("E", 1, 22, 25), ("P", 1, 28, 33), ("O", [2, 2.5, 3, 4, 5, 6, 7, 8, 10], 1, 15), ("E", [3, 4, 6, 8, 10, 14], 10, 23), ("R", 6, 3, 12), ("P", [2, 3, 6, 10, 20, 40, 80, 150, 300], 30, 33), ("P", [2, 3, 5], 21, 29), ("U", [2, 3, 4], 30, 33)]
IGHG2B_DOTS = [("P", 200, [2]), ("O", 60, [9]), ("O", 30, [1, 7, 12]), ("E", 20, [5, 10, 16, 20]), ("P", 300, [26]), ("P", 40, [13, 27]), ("O", 20, [22, 24]), ("P", 500, [31, 32]), ("P", 1000, [32.5])]
IGHG2B_X, IGHG2B_Y = [0, 3, 6, 10, 14, 18, 21, 25, 29, 33], [1.9, 2.1, 2.3, 2.2, 1.7, 2, 3.3, 9, 30, 57]

fig = go.Figure()
layout = dict(width=W, height=H, margin=dict(l=0, r=0, t=0, b=0), paper_bgcolor="white", plot_bgcolor="rgba(0,0,0,0)",
              showlegend=False, font=dict(family="Liberation Sans", color="#1a1a1a"), shapes=[], annotations=[])
axn = [0]


def new_axes(l, r, t, b, xa=None, ya=None):
    axn[0] += 1
    n = axn[0]
    sfx = "" if n == 1 else str(n)
    hide = dict(visible=False, fixedrange=True)
    layout["xaxis" + sfx] = dict(hide, domain=[l / W, r / W], anchor="y" + sfx, **(xa or {}))
    layout["yaxis" + sfx] = dict(hide, domain=[1 - b / H, 1 - t / H], anchor="x" + sfx, **(ya or {}))
    return "x" + sfx, "y" + sfx


def txt(x, y, s, size, anchor="left", angle=0, color="#1a1a1a"):
    layout["annotations"].append(dict(x=x / W, y=1 - y / H, xref="paper", yref="paper", text=s, showarrow=False, xanchor=anchor,
                                      yanchor="middle", textangle=angle, font=dict(size=size, color=color), borderpad=0))


def rect(l, r, t, b, c):
    layout["shapes"].append(dict(type="rect", xref="paper", yref="paper", x0=l / W, x1=r / W, y0=1 - b / H, y1=1 - t / H,
                                 fillcolor=c, line=dict(width=0), layer="below"))


def arrow(x0, y0, x1, y1):
    layout["annotations"].append(dict(x=x1 / W, y=1 - y1 / H, xref="paper", yref="paper", text="", showarrow=True, ax=x0 - x1, ay=y0 - y1,
                                      axref="pixel", ayref="pixel", arrowcolor="#EE4F60", arrowwidth=1, arrowhead=2, arrowsize=1))


# panel letters
for ch, x, y in [("A", 33, 24), ("C", 380, 23), ("B", 20, 208), ("D", 33, 554), ("E", 32, 713), ("F", 374, 557)]:
    txt(x, y, ch, 16.5, "center", color="#111111")


def legend(labels, keys, mx, tx, ys, size):
    xa, ya = new_axes(mx - 5, mx + 5, ys[0] - 5, ys[-1] + 5, dict(range=[-5, 5]), dict(range=[ys[-1] + 5, ys[0] - 5]))
    fig.add_trace(go.Scatter(x=[0] * len(keys), y=ys, mode="markers", xaxis=xa, yaxis=ya, hoverinfo="skip",
                             marker=dict(size=3, color=[COL[k] for k in keys])))
    for lb, yy in zip(labels, ys):
        txt(tx, yy, lb, size, color="#333333")


legend(T_CLUSTERS, T_KEYS, 32.7, 45.3, [57.7, 73, 88.7, 104, 119.3, 134.7, 150], 7.9)
legend(T_CLUSTERS, T_KEYS, 378, 391.7, [57.7, 74, 90.7, 107, 123.3, 139.3, 155.7], 8.2)
legend(B_CLUSTERS_D, B_KEYS, 52, 65.7, [594.7, 610.7, 626.7, 642.7, 658.7], 8)
legend(B_CLUSTERS_F, B_KEYS, 388.7, 401.7, [610.7, 626, 641.3, 656.7, 672], 8)


def trajectory(tree, bands, points, l, r, t, b, size):
    xa, ya = new_axes(l, r, t, b, dict(range=[l, r]), dict(range=[b, t]))
    for seg in tree:
        fig.add_trace(go.Scatter(x=[p[0] for p in seg], y=[p[1] for p in seg], mode="lines", xaxis=xa, yaxis=ya, hoverinfo="skip",
                                 line=dict(color="#333333", width=.7)))
    for key, w, pts in bands:
        fig.add_trace(go.Scatter(x=[p[0] for p in pts], y=[p[1] for p in pts], mode="lines", xaxis=xa, yaxis=ya, hoverinfo="skip",
                                 line=dict(color=COL[key], width=w)))
    for key, pts in points.items():
        fig.add_trace(go.Scatter(x=[p[0] for p in pts], y=[p[1] for p in pts], mode="markers", xaxis=xa, yaxis=ya, hoverinfo="skip",
                                 marker=dict(size=size, color=COL[key])))


trajectory(A_TREE, A_BANDS, A_POINTS, 120, 330, 60, 150, 2.8)
trajectory(D_TREE, D_BANDS, D_POINTS, 120, 300, 570, 670, 2.8)
arrow(162, 73, 190, 73)
arrow(164, 101, 152, 124)
arrow(250, 596.7, 271.7, 581)
arrow(242.3, 616, 259.3, 638.3)


def heat_block(rows, lx0, lx1, rx0, rx1, t, b, cbar=None):
    n = len(rows)
    for side, (l, r) in enumerate([(lx0, lx1), (rx0, rx1)]):
        z = [row[:10] if side == 0 else row[10:] for row in rows]
        xa, ya = new_axes(l, r, t, b, dict(range=[0, 100]), dict(range=[n - .5, -.5]))
        kw = dict(showscale=False)
        if cbar and side == 0:
            kw = dict(showscale=True, colorbar=cbar)
        fig.add_trace(go.Heatmap(z=z, x=HEAT_COLS, y=list(range(n)), zmin=-3, zmax=3, colorscale=JET, zsmooth="best", xaxis=xa, yaxis=ya,
                                 hoverinfo="skip", **kw))


def cb(l, r, t, b):
    return dict(x=l / W, xanchor="left", y=1 - (t + b) / 2 / H, yanchor="middle", xpad=0, ypad=0, thickness=r - l, thicknessmode="pixels",
                len=b - t, lenmode="pixels", outlinewidth=0, ticks="", tickvals=[3, 2, 1, 0, -1, -2, -3],
                ticktext=["3", "2", "1", "0", "\u22121", "\u22122", "\u22123"], tickfont=dict(size=5.5, color="#333333"))


PATH_SIZE = 9.5
# B
heat_block(B_H1, 194, 276.7, 279.3, 360, 232, 316.7, cb(366, 375.3, 232.7, 377))
heat_block(B_H2, 194, 276.7, 279.3, 360, 319.7, 393)
heat_block(B_H3, 194, 276.7, 279.3, 360, 396, 409.7)
heat_block(B_H4, 194, 276.7, 279.3, 360, 412.3, 508.7)
rect(194, 207, 225.7, 230.3, "#F0566A"); rect(207, 276.7, 225.7, 230.3, "#999999"); rect(279.3, 347, 225.7, 230.3, "#999999"); rect(347, 360, 225.7, 230.3, "#7E90D8")
rect(188, 192, 232, 316.7, "#FA8F87"); rect(188, 192, 319.7, 393, "#76C600"); rect(188, 192, 396, 409.7, "#C4A9FF"); rect(188, 192, 412.3, 508.7, "#FA77E8")
for c, t, b in [("#C4A9FF", 257.7, 266.9), ("#FA8F87", 266.9, 276), ("#FA77E8", 276, 285.2), ("#76C600", 285.2, 294.3)]:
    rect(396, 405, t, b, c)
for s, yy in zip("1234", [262, 271.5, 280.5, 290]):
    txt(410, yy, s, 6.3, color="#333333")
txt(406, 249, "Cluster", 9.3, "center", color="#333333")
txt(275, 216.7, "Pre-branch", 9.2, "center", color="#333333")
arrow(246.7, 216.7, 214, 216.7)
arrow(302.7, 216.7, 336, 216.7)
rect(19, 185, 232.3, 307, "#F4B183"); rect(19, 185, 319.3, 396, "#A9D18E"); rect(20, 184.5, 407.3, 430, "#B4C7E7"); rect(19, 185, 441.7, 507.3, "#CC82C3")
for s, yy in zip(PATH_B1, [241, 252.3, 263.7, 275, 286.3, 297.7]):
    txt(26, yy, s, PATH_SIZE, color="#000000")
for s, yy in zip(PATH_B2, [328.3, 339.3, 350.7, 362, 373.3, 384.7]):
    txt(25.3, yy, s, PATH_SIZE, color="#000000")
for s, yy in zip(PATH_B3, [418]):
    txt(25, yy, s, PATH_SIZE, color="#000000")
for s, yy in zip(PATH_B4, [451, 462.3, 473.7, 485, 496.3]):
    txt(26, yy, s, PATH_SIZE, color="#000000")

# E
heat_block(E_H1, 218.7, 302, 304.7, 386, 746, 927, cb(391.3, 401.7, 748, 892.7))
heat_block(E_H2, 218.7, 302, 304.7, 386, 929, 961)
heat_block(E_H3, 218.7, 302, 304.7, 386, 963, 1023.7)
rect(218.7, 240, 742, 744.7, "#F0566A"); rect(240, 302, 742, 744.7, "#999999"); rect(304.7, 365, 742, 744.7, "#999999"); rect(365, 386, 742, 744.7, "#7E90D8")
rect(213.3, 217, 746, 927, "#FA8F87"); rect(213.3, 217, 929, 961, "#8DB8F5"); rect(213.3, 217, 963, 1023.7, "#FA77E8")
for c, t, b in [("#FA77E8", 767.3, 776.5), ("#FA8F87", 776.5, 785.7), ("#8DB8F5", 785.7, 795)]:
    rect(416.3, 425, t, b, c)
for s, yy in zip("123", [771, 780.5, 790]):
    txt(428, yy, s, 7, color="#333333")
txt(426.7, 757.7, "Cluster", 9.3, "center", color="#333333")
txt(302.7, 734.7, "Pre-branch", 9.2, "center", color="#333333")
arrow(271.7, 735, 238.3, 735)
arrow(332.7, 734.7, 366, 734.7)
rect(15, 211, 758, 823.7, "#F4B183"); rect(15, 211, 849.3, 911.3, "#8FAADC"); rect(15, 211, 936.3, 1012, "#CC82C3")
for s, yy in zip(PATH_E1, [767.7, 779, 790.3, 801.7, 813]):
    txt(23.3, yy, s, PATH_SIZE, color="#000000")
for s, yy in zip(PATH_E2, [856.7, 868, 879.3, 890.7, 902]):
    txt(22.3, yy, s, PATH_SIZE, color="#000000")
for s, yy in zip(PATH_E3, [945.7, 957, 968.3, 979.7, 991, 1002.3]):
    txt(23.3, yy, s, PATH_SIZE, color="#000000")


def panel(title, origin, frame, xcal, ycal, tpos, yticks, xticks, base, runs, dots, cx, cy):
    ox, oy = origin
    l, r, t, b = [ox + frame[0] / 3, ox + frame[1] / 3, oy + frame[2] / 3, oy + frame[3] / 3]
    x0 = ox + xcal[0] / 3
    k = (ox + xcal[1] / 3 - x0) / xcal[2]
    (v1, p1), (v2, p2) = ycal
    p1, p2 = oy + p1 / 3, oy + p2 / 3
    s = (math.log10(v1) - math.log10(v2)) / (p1 - p2)
    fy = lambda p: math.log10(v1) + (p - p1) * s
    tk = dict(visible=True, showgrid=False, zeroline=False, showline=True, linecolor="#b5b5b5", linewidth=1, ticks="outside", ticklen=2, tickwidth=.6,
              tickcolor="#666666", tickfont=dict(size=5.3, color="#4d4d4d"))
    ticktxt = ["%.2f" % v for v in yticks]
    xa, ya = new_axes(l, r, t, b, dict(tk, range=[(l - x0) / k, (r - x0) / k], tickmode="array", tickvals=xticks),
                      dict(tk, type="log", range=[fy(b), fy(t)], tickmode="array", tickvals=yticks, ticktext=ticktxt))
    segs = {}
    for lev, rr in base:
        for key, a, c in rr:
            segs.setdefault(key, []).append((lev, a, c))
    for key, levs, a, c in runs:
        for lev in (levs if isinstance(levs, list) else [levs]):
            segs.setdefault(key, []).append((lev, a, c))
    for key, items in segs.items():
        xs, ys = [], []
        for lev, a, c in items:
            xs += [a, c, None]
            ys += [lev, lev, None]
        fig.add_trace(go.Scatter(x=xs, y=ys, mode="lines", xaxis=xa, yaxis=ya, hoverinfo="skip",
                                 line=dict(color=COL[key], width=2, dash="2px 0.7px")))
    pts = {}
    for key, lev, xs in dots:
        pts.setdefault(key, []).extend((q, lev) for q in xs)
    for key, pp in pts.items():
        fig.add_trace(go.Scatter(x=[p[0] for p in pp], y=[p[1] for p in pp], mode="markers", xaxis=xa, yaxis=ya, hoverinfo="skip",
                                 marker=dict(size=2.1, color=COL[key])))
    fig.add_trace(go.Scatter(x=cx, y=cy, mode="lines", xaxis=xa, yaxis=ya, hoverinfo="skip", line=dict(color="#222222", width=.9, shape="spline")))
    txt(ox + tpos[0] / 3, oy + tpos[1] / 3, title, 10.5, "center", color="#111111")


TX = [0, 5, 10, 15, 20]
BX = [0, 10, 20, 30]
Y4 = [10, 1, .1, .01]
TB2 = [(.01, T_MIX), (1, T_MIX)]
TB1 = [(.01, T_MIX)]
BB = [(.01, B_MIX)]
C1, C2, F1, F2 = (470, 10), (470, 260), (470, 540), (470, 790)
panel("Ccr7", C1, (80, 258, 95, 358), (88, 234, 20), [(10, 114), (.01, 343)], (165, 67), Y4, TX, TB2, CCR7_RUNS, CCR7_DOTS, CCR7_X, CCR7_Y)
panel("Sell", C1, (310, 490, 87, 356), (319, 464, 20), [(10, 124), (.01, 343)], (400, 67), Y4, TX, TB2, SELL_RUNS, SELL_DOTS, SELL_X, SELL_Y)
panel("Cd44", C1, (540, 722, 82, 352), (548, 693, 20), [(10, 107), (.01, 339)], (641, 68), Y4, TX, TB2, CD44_RUNS, CD44_DOTS, CD44_X, CD44_Y)
panel("Foxp3", C1, (76, 262, 435, 712), (85, 235, 20), [(10, 463), (.01, 700)], (175, 422), Y4, TX, TB1, FOXP3_RUNS, FOXP3_DOTS, FOXP3_X, FOXP3_Y)
panel("Il2ra", C1, (310, 484, 450, 707), (318, 462, 20), [(10, 481), (.01, 695)], (395, 422), Y4, TX, TB1, IL2RA_RUNS, IL2RA_DOTS, IL2RA_X, IL2RA_Y)
panel("Gzmk", C1, (535, 717, 445, 707), (543, 689, 20), [(10, 471), (.01, 695)], (640, 422), Y4, TX, TB2, GZMK_RUNS, GZMK_DOTS, GZMK_X, GZMK_Y)
panel("Gata3", C2, (72, 250, 40, 303), (81, 227, 20), [(10, 70), (.01, 289)], (165, 20), Y4, TX, TB2, GATA3_RUNS, GATA3_DOTS, GATA3_X, GATA3_Y)
panel("Il7r", C2, (315, 490, 35, 300), (323, 469, 20), [(10, 71), (.01, 287)], (397, 20), Y4, TX, TB2, IL7R_RUNS, IL7R_DOTS, IL7R_X, IL7R_Y)
panel("Icos", C2, (550, 730, 30, 292), (559, 703, 20), [(10, 64), (.01, 280)], (650, 20), Y4, TX, TB2, ICOS_RUNS, ICOS_DOTS, ICOS_X, ICOS_Y)
panel("Ccl5", C2, (70, 250, 380, 655), (79, 224, 20), [(1000, 390), (.1, 592)], (166, 360), [1000, 10, .1], TX, TB2, CCL5_RUNS, CCL5_DOTS, CCL5_X, CCL5_Y)
panel("Fasl", C2, (313, 490, 385, 652), (322, 466, 20), [(10, 415), (.01, 638)], (395, 358), Y4, TX, TB2, FASL_RUNS, FASL_DOTS, FASL_X, FASL_Y)
panel("Eomes", C2, (552, 730, 382, 650), (561, 705, 20), [(10, 415), (.01, 636)], (640, 358), Y4, TX, TB2, EOMES_RUNS, EOMES_DOTS, EOMES_X, EOMES_Y)
panel("Cr2", F1, (47, 248, 150, 410), (56, 231, 30), [(10, 189), (.01, 396)], (133, 118), Y4, BX, BB, CR2_RUNS, CR2_DOTS, CR2_X, CR2_Y)
panel("Cd1d1", F1, (302, 510, 145, 410), (311, 487, 30), [(10, 162), (.01, 395)], (403, 118), Y4, BX, BB, CD1D1_RUNS, CD1D1_DOTS, CD1D1_X, CD1D1_Y)
panel("Fcer2a", F1, (560, 775, 130, 405), (569, 753, 30), [(10, 146), (.01, 391)], (666, 118), Y4, BX, BB, FCER2A_RUNS, FCER2A_DOTS, FCER2A_X, FCER2A_Y)
panel("Ighd", F1, (47, 248, 495, 760), (56, 231, 30), [(10, 536), (.01, 748)], (133, 478), Y4, BX, BB, IGHD_RUNS, IGHD_DOTS, IGHD_X, IGHD_Y)
panel("Cd80", F1, (300, 505, 490, 760), (308, 490, 30), [(10, 507), (.01, 746)], (393, 476), Y4, BX, BB, CD80_RUNS, CD80_DOTS, CD80_X, CD80_Y)
panel("Fas", F1, (555, 775, 470, 755), (567, 757, 30), [(10, 492), (.01, 741)], (658, 476), Y4, BX, BB, FAS_RUNS, FAS_DOTS, FAS_X, FAS_Y)
panel("Foxp1", F2, (45, 240, 100, 352), (54, 231, 30), [(100, 101), (.01, 339)], (150, 72), [100, 10, 1, .1, .01], BX, BB, FOXP1_RUNS, FOXP1_DOTS, FOXP1_X, FOXP1_Y)
panel("Plcl2", F2, (290, 510, 95, 345), (299, 483, 30), [(10, 120), (.01, 333)], (396, 70), Y4, BX, BB, PLCL2_RUNS, PLCL2_DOTS, PLCL2_X, PLCL2_Y)
panel("Jchain", F2, (563, 765, 90, 345), (572, 753, 30), [(100, 135), (.01, 333)], (670, 67), [100, 10, 1, .1, .01], BX, BB, JCHAIN_RUNS, JCHAIN_DOTS, JCHAIN_X, JCHAIN_Y)
panel("Ighg1", F2, (43, 255, 425, 690), (52, 231, 30), [(1000, 445), (.1, 631)], (158, 405), [1000, 10, .1, .01], BX, BB, IGHG1_RUNS, IGHG1_DOTS, IGHG1_X, IGHG1_Y)
panel("Ighg2b", F2, (307, 510, 428, 683), (316, 484, 30), [(1000, 442), (.1, 626)], (396, 405), [1000, 10, .1], BX, BB, IGHG2B_RUNS, IGHG2B_DOTS, IGHG2B_X, IGHG2B_Y)

txt(606, 495.7, "Pseudo-Time", 9.6, "center")
txt(602, 1035.7, "Pseudo-Time", 9.6, "center")
txt(470.7, 244.5, "Relative Expression", 9.6, "center", angle=90)
txt(458.7, 803, "Relative Expression", 9.6, "center", angle=90)

fig.update_layout(**layout)
fig.write_html("out.html", config=dict(displayModeBar=False),
               post_script="document.body.style.margin='0';document.body.style.overflow='hidden';")
